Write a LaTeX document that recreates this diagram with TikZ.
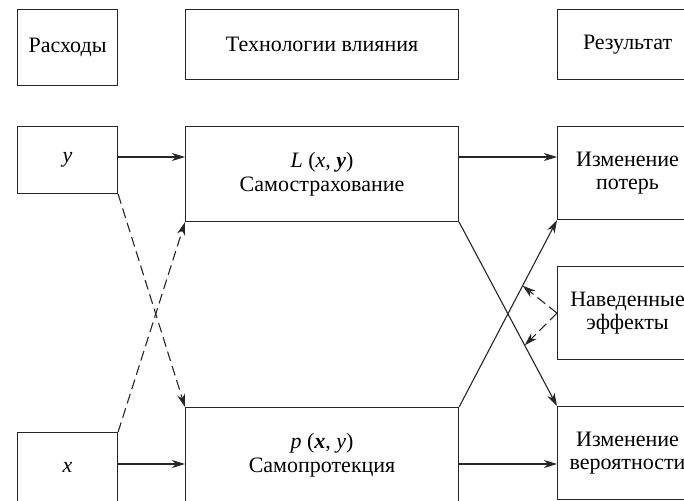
\documentclass[tikz,border=0pt]{standalone}
\usepackage{fontspec}
\setmainfont{Liberation Serif}
\usetikzlibrary{arrows.meta}
\tikzset{
  box/.style={draw=black!85, line width=1.1pt, anchor=north west, inner sep=0pt,
    align=center, font=\fontsize{22}{23.5}\selectfont},
  arr/.style={draw=black!85, line width=1.1pt, -{Stealth[length=13pt,width=8pt,inset=4pt]}},
  dsh/.style={arr, dash pattern=on 10pt off 5pt},
  ln/.style={draw=black!85, line width=1.1pt}
}
\begin{document}
\begin{tikzpicture}[x=1pt,y=-1pt]
\useasboundingbox (0,0) rectangle (684,500);
\clip (0,0) rectangle (684,500);
% top row
\node[box, minimum width=100pt, minimum height=76pt] (ras) at (17,9) {Расходы};
\node[box, minimum width=273pt, minimum height=70pt] (tech) at (185,9) {Технологии влияния};
\node[box, minimum width=140pt, minimum height=70pt] (res) at (557,9) {Результат};
% left column
\node[box, minimum width=100pt, minimum height=67pt] (ybox) at (17,126) {\textit{y}};
\node[box, minimum width=100pt, minimum height=70pt] (xbox) at (17,432) {\textit{x}};
% middle column
\node[box, minimum width=273pt, minimum height=95pt] (L) at (185,126)
  {\textit{L} (\textit{x}, \textbf{\textit{y}})\\Самострахование};
\node[box, minimum width=273pt, minimum height=95pt] (p) at (185,407)
  {\textit{p} (\textbf{\textit{x}}, \textit{y})\\Самопротекция};
% right column
\node[box, minimum width=140pt, minimum height=93pt] (loss) at (557,126) {Изменение\\потерь};
\node[box, minimum width=140pt, minimum height=93pt] (nav) at (557,266) {Наведенные\\эффекты};
\node[box, minimum width=140pt, minimum height=93pt] (prob) at (557,406) {Изменение\\вероятности};
% horizontal arrows
\draw[arr] (ybox.east |- 0,157) -- (L.west |- 0,157);
\draw[arr] (L.east |- 0,157) -- (loss.west |- 0,157);
\draw[arr] (xbox.east |- 0,464) -- (p.west |- 0,464);
\draw[arr] (p.east |- 0,464) -- (prob.west |- 0,464);
% dashed crossing arrows
\draw[dsh] (ybox.south east) -- (p.north west);
\draw[dsh] (xbox.north east) -- (L.south west);
% solid crossing arrows
\draw[arr] (p.north east) -- coordinate[pos=0.649] (ma) (loss.south west);
\draw[arr] (L.south east) -- coordinate[pos=0.67] (mb) (prob.north west);
% induced effects
\draw[dsh] (nav.west) -- (ma);
\draw[dsh] (nav.west) -- (mb);
\end{tikzpicture}
\end{document}
